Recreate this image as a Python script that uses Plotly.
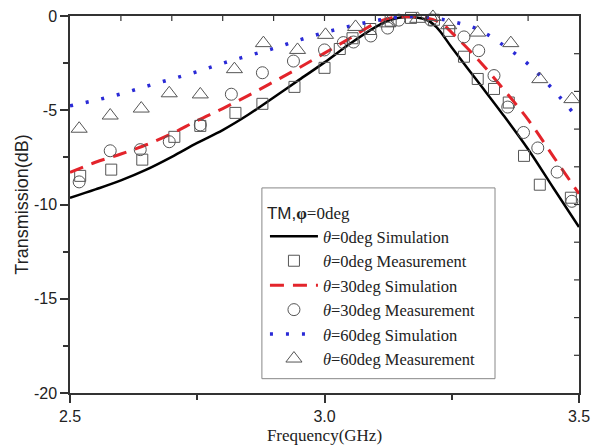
import plotly.graph_objects as go

# Simulation curves (frequency GHz, transmission dB)
sim_f0 = [2.5, 2.55, 2.6, 2.65, 2.7, 2.75, 2.8, 2.85, 2.9, 2.95, 3.0, 3.05, 3.1, 3.13, 3.16, 3.2, 3.22, 3.25, 3.3, 3.35, 3.4, 3.45, 3.5]
sim_t0 = [-9.65, -9.2, -8.72, -8.15, -7.47, -6.73, -6.05, -5.24, -4.32, -3.39, -2.46, -1.47, -0.59, -0.2, -0.05, -0.2, -0.59, -1.67, -3.44, -5.21, -7.07, -9.14, -11.2]

sim_f30 = [2.5, 2.55, 2.6, 2.65, 2.7, 2.75, 2.8, 2.85, 2.9, 2.95, 3.0, 3.05, 3.1, 3.13, 3.2, 3.23, 3.25, 3.3, 3.35, 3.4, 3.45, 3.5]
sim_t30 = [-8.3, -7.76, -7.32, -6.83, -6.24, -5.55, -4.91, -4.22, -3.49, -2.75, -1.97, -1.18, -0.39, -0.1, -0.1, -0.39, -0.88, -2.26, -3.83, -5.5, -7.47, -9.43]

sim_f60 = [2.5, 2.55, 2.6, 2.65, 2.7, 2.75, 2.8, 2.85, 2.9, 2.95, 3.0, 3.05, 3.1, 3.15, 3.2, 3.25, 3.3, 3.35, 3.4, 3.45, 3.5]
sim_t60 = [-4.77, -4.47, -4.13, -3.73, -3.34, -2.95, -2.51, -2.11, -1.72, -1.28, -0.88, -0.54, -0.25, -0.05, -0.05, -0.29, -0.69, -1.52, -2.55, -3.93, -5.5]

# Measurements
meas_f0 = [2.52, 2.581, 2.642, 2.705, 2.756, 2.825, 2.878, 2.941, 3.0, 3.03, 3.055, 3.09, 3.13, 3.17, 3.215, 3.245, 3.274, 3.301, 3.333, 3.362, 3.392, 3.423, 3.484]
meas_t0 = [-8.48, -8.15, -7.62, -6.41, -5.83, -5.14, -4.66, -3.76, -2.75, -1.75, -1.18, -0.69, -0.25, -0.1, -0.2, -0.79, -2.16, -3.34, -3.87, -4.59, -7.42, -8.95, -9.64]

meas_f30 = [2.518, 2.579, 2.638, 2.695, 2.756, 2.817, 2.878, 2.939, 3.0, 3.037, 3.057, 3.091, 3.124, 3.146, 3.209, 3.274, 3.303, 3.333, 3.360, 3.391, 3.419, 3.457, 3.486]
meas_t30 = [-8.8, -7.15, -7.09, -6.67, -5.78, -4.15, -3.01, -2.39, -1.8, -1.41, -1.38, -1.06, -0.64, -0.22, -0.22, -1.11, -1.84, -3.16, -4.83, -6.18, -7.0, -8.28, -9.83]

meas_f60 = [2.518, 2.579, 2.640, 2.695, 2.756, 2.823, 2.880, 2.947, 3.002, 3.061, 3.124, 3.183, 3.213, 3.244, 3.301, 3.366, 3.423, 3.486]
meas_t60 = [-5.98, -5.28, -4.91, -4.1, -4.16, -2.82, -1.44, -1.8, -1.0, -0.58, -0.39, -0.15, -0.05, -0.49, -0.88, -1.44, -3.35, -4.41]

x_ticks = [2.5, 3.0, 3.5]
x_tick_text = ["2.5", "3.0", "3.5"]
x_minor = [2.75, 3.25]
x_top_ticks = [2.6, 2.7, 2.8, 2.9, 3.0, 3.1, 3.2, 3.3, 3.4]
y_ticks = [0, -5, -10, -15, -20]
y_tick_text = ["0", "-5", "-10", "-15", "-20"]
y_minor = [-2.5, -7.5, -12.5, -17.5]
y_right_ticks = [-2, -4, -6, -8, -10, -12, -14, -16, -18]

SANS = "Liberation Sans"
SERIF = "Liberation Serif"
GRAY = "#555555"
AX = "#333333"

fig = go.Figure()
fig.add_trace(go.Scatter(x=sim_f0, y=sim_t0, mode="lines", line=dict(color="black", width=2.5, shape="spline"),
                         name="<i>θ</i>=0deg Simulation", cliponaxis=False))
fig.add_trace(go.Scatter(x=meas_f0, y=meas_t0, mode="markers",
                         marker=dict(symbol="square-open", size=11, color=GRAY, line=dict(width=1)),
                         name="<i>θ</i>=0deg Measurement", cliponaxis=False))
fig.add_trace(go.Scatter(x=sim_f30, y=sim_t30, mode="lines", line=dict(color="#e3242b", width=3, dash="14px,9px", shape="spline"),
                         name="<i>θ</i>=30deg Simulation", cliponaxis=False))
fig.add_trace(go.Scatter(x=meas_f30, y=meas_t30, mode="markers",
                         marker=dict(symbol="circle-open", size=12, color=GRAY, line=dict(width=1)),
                         name="<i>θ</i>=30deg Measurement", cliponaxis=False))
fig.add_trace(go.Scatter(x=sim_f60, y=sim_t60, mode="lines", line=dict(color="#2a2ad6", width=3.5, dash="3px,13px", shape="spline"),
                         name="<i>θ</i>=60deg Simulation", cliponaxis=False))
fig.add_trace(go.Scatter(x=meas_f60, y=meas_t60, mode="markers",
                         marker=dict(symbol="triangle-up-open", size=14, color=GRAY, line=dict(width=1)),
                         name="<i>θ</i>=60deg Measurement", cliponaxis=False))

# inward ticks on the mirrored top and right frame
PLOT_H = 446 - 16 - 53
PLOT_W = 597 - 70 - 18
for xv in x_top_ticks:
    fig.add_shape(type="line", xref="x", yref="paper", x0=xv, x1=xv, y0=1, y1=1 - 5 / PLOT_H,
                  line=dict(color=AX, width=1.2))
for yv in y_right_ticks:
    fig.add_shape(type="line", xref="paper", yref="y", x0=1, x1=1 - 5 / PLOT_W, y0=yv, y1=yv,
                  line=dict(color=AX, width=1.2))

# legend frame
fig.add_shape(type="rect", xref="paper", yref="paper", x0=0.377, x1=0.835, y0=0.038, y1=0.544,
              line=dict(color="#888888", width=1), fillcolor="white", layer="above")

fig.update_layout(
    width=597, height=446,
    margin=dict(l=70, r=18, t=16, b=53),
    paper_bgcolor="white", plot_bgcolor="white",
    showlegend=True,
    legend=dict(
        x=0.383, y=0.52, xanchor="left", yanchor="top",
        bgcolor="rgba(0,0,0,0)", borderwidth=0,
        font=dict(family=SERIF, size=16.5, color="#222"),
        itemwidth=48, tracegroupgap=0,
        title=dict(text="<span style='font-family:Liberation Sans'>TM,</span><b>φ</b>=0deg",
                   font=dict(family=SERIF, size=17, color="#222")),
    ),
    xaxis=dict(
        range=[2.5, 3.5], tickvals=x_ticks, ticktext=x_tick_text,
        ticks="outside", ticklen=8, tickwidth=1.5, tickcolor=AX,
        minor=dict(tickvals=x_minor, ticks="outside", ticklen=5, tickcolor=AX),
        showline=True, linecolor=AX, linewidth=1.5, showgrid=False, zeroline=False, mirror=True,
        tickfont=dict(family=SANS, size=16, color="#222"), automargin=False,
        title=dict(text="Frequency(GHz)", font=dict(family=SERIF, size=17, color="#222"), standoff=5),
    ),
    yaxis=dict(
        range=[-20, 0], tickvals=y_ticks, ticktext=y_tick_text,
        ticks="outside", ticklen=8, tickwidth=1.5, tickcolor=AX,
        minor=dict(tickvals=y_minor, ticks="outside", ticklen=5, tickcolor=AX),
        showline=True, linecolor=AX, linewidth=1.5, showgrid=False, zeroline=False, mirror=True,
        tickfont=dict(family=SANS, size=16, color="#222"), automargin=False,
        title=dict(text="Transmission(dB)", font=dict(family=SANS, size=18, color="#222"), standoff=1),
    ),
)

fig.write_html("out.html")
